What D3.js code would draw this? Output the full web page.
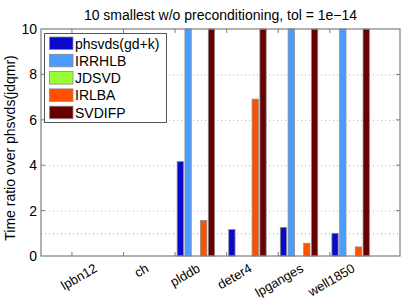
<!DOCTYPE html>
<html>
<head>
<meta charset="utf-8">
<script src="https://cdn.jsdelivr.net/npm/d3@7"></script>
<style>
body { margin: 0; background: #fff; }
text { font-family: "Liberation Sans", Arial, sans-serif; }
</style>
</head>
<body>
<div id="chart"></div>
<script>
var width = 407;
var height = 303;

// matrices along the x axis
var categories = ["lpbn12", "ch", "plddb", "deter4", "lpganges", "well1850"];
// methods (legend)
var methods = ["phsvds(gd+k)", "IRRHLB", "JDSVD", "IRLBA", "SVDIFP"];
var colors = ["#0a0acf", "#4a9dff", "#99ff33", "#ff5000", "#680000"];
// ratio values per method, one per matrix (values above 10 are cut at the axis)
var phsvds = [0, 0, 4.16, 1.17, 1.26, 1.0];
var irrhlb = [0, 0, 10, 0, 10, 10];
var jdsvd = [0, 0, 0, 0, 0, 0];
var irlba = [0, 0, 1.56, 6.91, 0.56, 0.40];
var svdifp = [0, 0, 10, 10, 10, 10];
var yTicks = [0, 2, 4, 6, 8, 10];

var series = [phsvds, irrhlb, jdsvd, irlba, svdifp];
var fontSize = "14px";

// plot box in pixels (can't use "top" as a global name, it is window.top)
var pLeft = 41, pRight = 400, pTop = 29, pBottom = 256;

var svg = d3.select("#chart").append("svg")
    .attr("width", width)
    .attr("height", height);

var xScale = d3.scaleLinear().domain([0.4, 7.36]).range([pLeft, pRight]);
var yScale = d3.scaleLinear().domain([0, 10]).range([pBottom, pTop]);

// gridlines
svg.append("g").selectAll("line")
    .data([2, 4, 6, 8]).enter()
    .append("line")
    .attr("x1", pLeft).attr("x2", pRight)
    .attr("y1", function(d) { return yScale(d) + 0.5; })
    .attr("y2", function(d) { return yScale(d) + 0.5; })
    .attr("stroke", "#aaa")
    .attr("stroke-dasharray", "1,3");

// reference line at ratio 1
svg.append("line")
    .attr("x1", pLeft).attr("x2", pRight)
    .attr("y1", yScale(1) + 0.5).attr("y2", yScale(1) + 0.5)
    .attr("stroke", "#f08080")
    .attr("stroke-dasharray", "1,3");

// bars
var barPitch = 0.151, barW = 0.122, barOff = 0.03;
var bars = svg.append("g");
series.forEach(function(vals, s) {
    vals.forEach(function(v, i) {
        if (v <= 0) return;
        var x0 = xScale(i + 1 + barOff + s * barPitch);
        var x1 = xScale(i + 1 + barOff + s * barPitch + barW);
        bars.append("rect")
            .attr("x", x0 + 0.5)
            .attr("y", yScale(Math.min(v, 10)))
            .attr("width", x1 - x0)
            .attr("height", yScale(0) - yScale(Math.min(v, 10)))
            .attr("fill", colors[s])
            .attr("stroke", "#8a8a8a")
            .attr("stroke-width", 0.8);
    });
});

// axes box
svg.append("rect")
    .attr("x", pLeft).attr("y", pTop)
    .attr("width", pRight - pLeft).attr("height", pBottom - pTop)
    .attr("fill", "none")
    .attr("stroke", "#7f7f7f")
    .attr("stroke-width", 1.2);

var yAxis = d3.axisLeft(yScale).tickValues(yTicks).tickSize(0).tickPadding(4);
var yg = svg.append("g")
    .attr("transform", "translate(" + pLeft + ",0)")
    .call(yAxis);
yg.select(".domain").remove();
yg.selectAll("text")
    .attr("font-family", null)
    .style("font-size", fontSize)
    .attr("fill", "#000");

// small tick marks on both sides
svg.append("g").selectAll("line")
    .data(yTicks.slice(1, 5)).enter()
    .append("line")
    .attr("x1", pRight - 4).attr("x2", pRight)
    .attr("y1", function(d) { return yScale(d); })
    .attr("y2", function(d) { return yScale(d); })
    .attr("stroke", "#7f7f7f");
svg.append("g").selectAll("line")
    .data(yTicks.slice(1, 5)).enter()
    .append("line")
    .attr("x1", pLeft).attr("x2", pLeft + 4)
    .attr("y1", function(d) { return yScale(d); })
    .attr("y2", function(d) { return yScale(d); })
    .attr("stroke", "#7f7f7f");

// x tick marks top and bottom
var xt = d3.range(1, categories.length + 1);
svg.append("g").selectAll("line")
    .data(xt).enter()
    .append("line")
    .attr("x1", function(d) { return xScale(d); })
    .attr("x2", function(d) { return xScale(d); })
    .attr("y1", pBottom).attr("y2", pBottom - 4)
    .attr("stroke", "#7f7f7f");
svg.append("g").selectAll("line")
    .data(xt).enter()
    .append("line")
    .attr("x1", function(d) { return xScale(d); })
    .attr("x2", function(d) { return xScale(d); })
    .attr("y1", pTop).attr("y2", pTop + 4)
    .attr("stroke", "#7f7f7f");

// rotated category labels
svg.append("g").selectAll("text")
    .data(categories).enter()
    .append("text")
    .attr("transform", function(d, i) {
        return "translate(" + (xScale(i + 1) + 26) + ",271) rotate(-30)";
    })
    .attr("text-anchor", "end")
    .style("font-size", "13px")
    .text(function(d) { return d; });

// title
svg.append("text")
    .attr("x", 220.5)
    .attr("y", 19.5)
    .attr("text-anchor", "middle")
    .style("font-size", fontSize)
    .text("10 smallest w/o preconditioning, tol = 1e\u221214");

// y label
svg.append("text")
    .attr("transform", "translate(15,148) rotate(-90)")
    .attr("text-anchor", "middle")
    .style("font-size", fontSize)
    .text("Time ratio over phsvds(jdqmr)");

// legend
var legend = svg.append("g");
legend.append("rect")
    .attr("x", 44.5).attr("y", 33.5)
    .attr("width", 122).attr("height", 89)
    .attr("fill", "#fff")
    .attr("stroke", "#555");
methods.forEach(function(m, i) {
    legend.append("rect")
        .attr("x", 49.5).attr("y", 37 + i * 17.3)
        .attr("width", 23.5).attr("height", 12.5)
        .attr("fill", colors[i])
        .attr("stroke", "#8a8a8a")
        .attr("stroke-width", 0.8);
    legend.append("text")
        .attr("x", 75)
        .attr("y", 48.5 + i * 17.3)
        .style("font-size", fontSize)
        .text(m);
});
</script>
</body>
</html>
